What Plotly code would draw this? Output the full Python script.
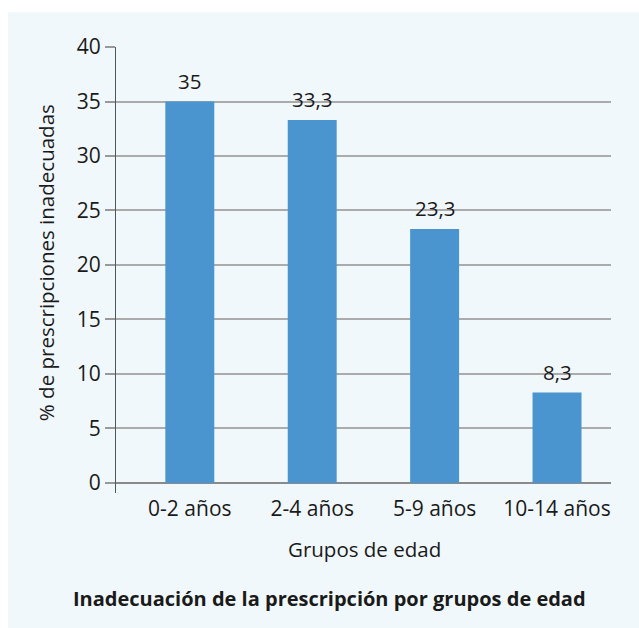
import plotly.graph_objects as go

categories = ["0-2 años", "2-4 años", "5-9 años", "10-14 años"]
values = [35, 33.3, 23.3, 8.3]
y_ticks = [0, 5, 10, 15, 20, 25, 30, 35, 40]

def fmt(v):
    s = ("%g" % v)
    return s.replace(".", ",")

FONT = "Open Sans"
TXT = "#1a1a1a"
PANEL = "#f1f8fb"

# plot area in pixels: x 116..611, y 46.7..493
W, H = 639, 628
L, R, T, B = 116, 611, 46.7, 493
pw, ph = R - L, B - T

def px(x):
    return (x - L) / pw

def py(y):
    return (B - y) / ph

fig = go.Figure()
fig.add_trace(go.Bar(
    x=categories, y=values,
    marker=dict(color="#4a94d0", line=dict(width=0)),
    hoverinfo="skip",
))

annotations = []
for c, v in zip(categories, values):
    annotations.append(dict(
        x=c, y=v, xref="x", yref="y", text=fmt(v), showarrow=False,
        yanchor="bottom", yshift=5, font=dict(family=FONT, size=20.5, color=TXT),
    ))

annotations.append(dict(
    x=px(46), y=py(263), xref="paper", yref="paper",
    text="% de prescripciones inadecuadas", textangle=-90, showarrow=False,
    xanchor="center", yanchor="middle", font=dict(family=FONT, size=20.5, color=TXT),
))
annotations.append(dict(
    x=px(364.5), y=py(549), xref="paper", yref="paper",
    text="Grupos de edad", showarrow=False,
    xanchor="center", yanchor="middle", font=dict(family=FONT, size=20.5, color=TXT),
))
annotations.append(dict(
    x=px(329), y=py(598.5), xref="paper", yref="paper",
    text="<b>Inadecuación de la prescripción por grupos de edad</b>", showarrow=False,
    xanchor="center", yanchor="middle", font=dict(family=FONT, size=20, color=TXT),
))

fig.update_layout(
    width=W, height=H,
    margin=dict(l=L, r=W - R, t=T, b=H - B, pad=0),
    paper_bgcolor="white",
    plot_bgcolor="rgba(0,0,0,0)",
    bargap=0.6,
    showlegend=False,
    annotations=annotations,
    shapes=[dict(
        type="rect", xref="paper", yref="paper", layer="below",
        x0=px(8), x1=px(W + 5), y0=py(H + 5), y1=py(12),
        fillcolor=PANEL, line=dict(width=0),
    )],
    xaxis=dict(
        type="category", range=[-0.603, 3.441], showgrid=False, zeroline=False,
        showline=False, ticks="", tickfont=dict(family=FONT, size=21, color=TXT),
        ticklabelstandoff=1, fixedrange=True,
    ),
    yaxis=dict(
        range=[-0.92, 40], tickvals=y_ticks, ticktext=[str(t) for t in y_ticks],
        showgrid=True, gridcolor="#ababab", gridwidth=1.5,
        zeroline=True, zerolinecolor="#8a8a8a", zerolinewidth=2,
        showline=True, linecolor="#555555", linewidth=1.2,
        ticks="outside", ticklen=10, tickcolor="#999999", tickwidth=1.5,
        tickfont=dict(family=FONT, size=21, color=TXT), fixedrange=True,
    ),
)

fig.write_html("out.html", config={"displayModeBar": False})
